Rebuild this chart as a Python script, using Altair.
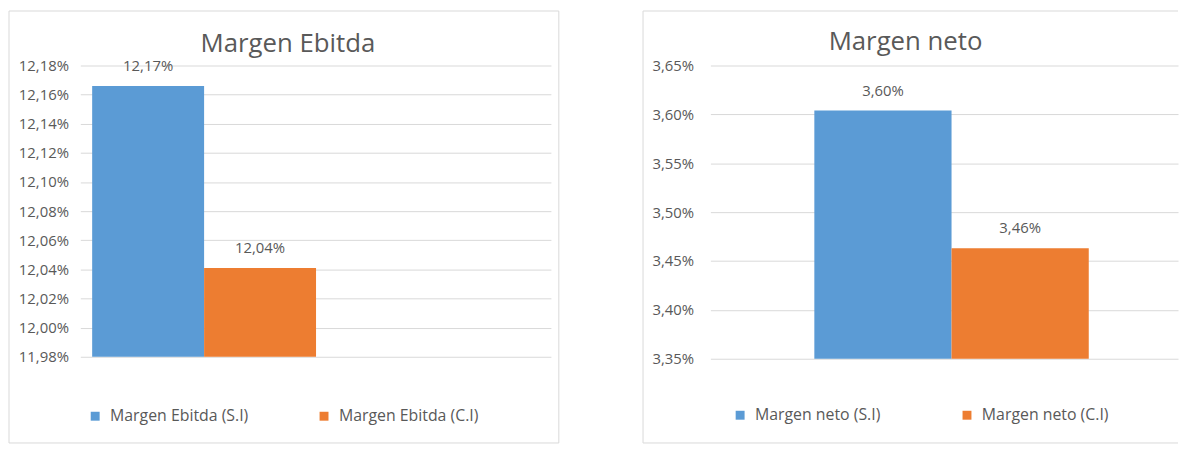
import altair as alt
import pandas as pd

# ---------------- data ----------------
ebitda_group = "Margen Ebitda"
ebitda_series = ["Margen Ebitda (S.I)", "Margen Ebitda (C.I)"]
ebitda_values = [12.166, 12.041]
ebitda_ticks = [11.98, 12.00, 12.02, 12.04, 12.06, 12.08, 12.10, 12.12, 12.14, 12.16, 12.18]

neto_group = "Margen neto"
neto_series = ["Margen neto (S.I)", "Margen neto (C.I)"]
neto_values = [3.604, 3.463]
neto_ticks = [3.35, 3.40, 3.45, 3.50, 3.55, 3.60, 3.65]

colors = ["#5B9BD5", "#ED7D31"]

FONT = "Open Sans"
GRAY = "#595959"
LINE = "#D9D9D9"
PCT = "replace(format({v}, '.2f'), '.', ',') + '%'"


def panel(group, series, values, ticks, pad_outer, align, legend_x, legend_y,
          col_pad, label_pad):
    df = pd.DataFrame({"grupo": [group] * len(series), "serie": series, "valor": values})
    x = alt.X("grupo:N", axis=None,
              scale=alt.Scale(paddingInner=0, paddingOuter=pad_outer, align=align))
    xo = alt.XOffset("serie:N", sort=series, scale=alt.Scale(paddingInner=0, paddingOuter=0))
    y = alt.Y("valor:Q",
              scale=alt.Scale(domain=[ticks[0], ticks[-1]], zero=False, nice=False),
              axis=alt.Axis(values=ticks, tickCount=len(ticks), title=None,
                            labelOverlap=False,
                            labelExpr=PCT.format(v="datum.value"),
                            domain=False, ticks=False, grid=True,
                            gridColor=LINE, gridWidth=1,
                            labelFont=FONT, labelFontSize=15, labelColor=GRAY,
                            labelPadding=label_pad))
    color = alt.Color("serie:N", sort=series,
                      scale=alt.Scale(domain=series, range=colors),
                      legend=alt.Legend(orient="none", legendX=legend_x, legendY=legend_y,
                                        direction="horizontal", columns=2, title=None,
                                        symbolType="square", symbolSize=81,
                                        symbolStrokeWidth=0, labelOffset=7,
                                        labelFont=FONT, labelFontSize=16,
                                        labelColor=GRAY, columnPadding=col_pad,
                                        padding=0, labelLimit=300))
    base = alt.Chart(df)
    bars = base.mark_bar().encode(x=x, xOffset=xo, y=y, y2=alt.datum(ticks[0]),
                                  color=color)
    labels = base.transform_calculate(
        etiqueta=PCT.format(v="datum.valor")
    ).mark_text(dy=-20, font=FONT, fontSize=15, color=GRAY, baseline="middle").encode(
        x=x, xOffset=xo, y="valor:Q", text="etiqueta:N")
    return bars, labels


bars_l, labels_l = panel(ebitda_group, ebitda_series, ebitda_values, ebitda_ticks,
                         0.551, 0.048, 7, 346, 68, 12)
bars_r, labels_r = panel(neto_group, neto_series, neto_values, neto_ticks,
                         0.352, 0.538, 22, 345, 79, 17)

one = pd.DataFrame({"k": [0]})
frame_l = alt.Chart(one).mark_rect(fillOpacity=0, stroke=LINE, strokeWidth=1).encode(
    x=alt.value(-72), x2=alt.value(483), y=alt.value(-55), y2=alt.value(381))

frame_r_top = alt.Chart(one).mark_rule(color=LINE, strokeWidth=1).encode(
    x=alt.value(-68), x2=alt.value(472), y=alt.value(-55))
frame_r_bot = alt.Chart(one).mark_rule(color=LINE, strokeWidth=1).encode(
    x=alt.value(-68), x2=alt.value(472), y=alt.value(381))
frame_r_left = alt.Chart(one).mark_rule(color=LINE, strokeWidth=1).encode(
    x=alt.value(-68), y=alt.value(-55), y2=alt.value(381))


def ttl(text, dx, offset):
    return alt.TitleParams(text=text, font=FONT, fontSize=26, fontWeight="normal",
                           color=GRAY, anchor="middle", dx=dx, offset=offset,
                           baseline="alphabetic")


left = alt.layer(frame_l, bars_l, labels_l).properties(
    width=475, height=294, title=ttl("Margen Ebitda", -28, -68))
right = alt.layer(frame_r_top, frame_r_bot, frame_r_left, bars_r, labels_r).properties(
    width=472, height=296, title=ttl("Margen neto", -39, -66))

chart = alt.hconcat(left, right, spacing=83).resolve_scale(
    color="independent", x="independent", y="independent", xOffset="independent"
).resolve_legend(color="independent").properties(
    padding=0, background="white"
).configure_view(stroke=None)

chart.save("out.html", embed_options={"renderer": "svg", "actions": False})
